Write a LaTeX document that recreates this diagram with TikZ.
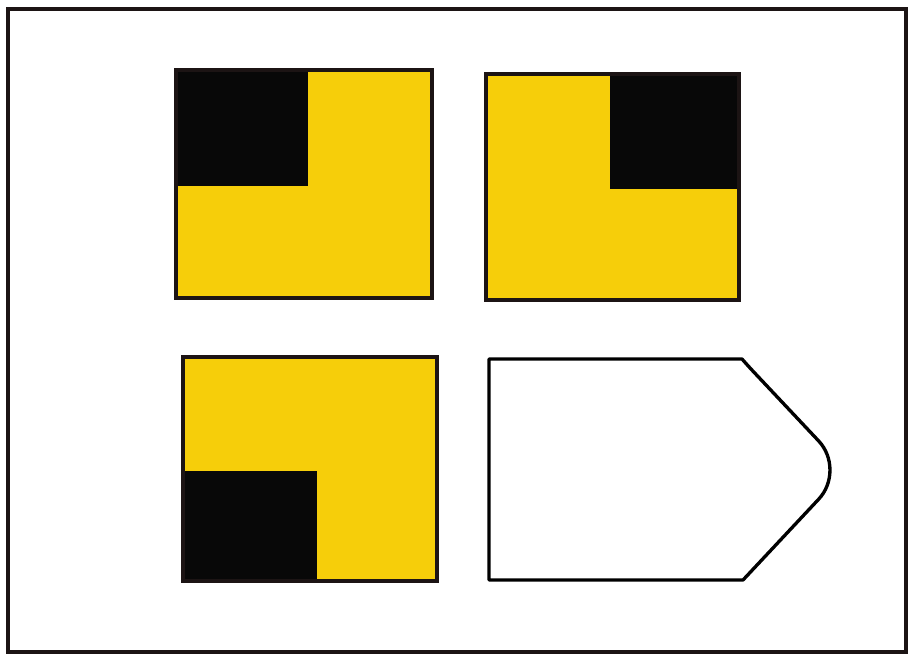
\documentclass[tikz,border=0pt]{standalone}
\usepackage{xcolor}
\usepackage{tikz}
\definecolor{PanelYellow}{HTML}{F6CE0A}
\definecolor{PanelBlack}{HTML}{080808}
\definecolor{PanelInk}{HTML}{1C1414}
\tikzset{
  frame/.style={draw=PanelInk, line width=1.9pt},
  panelfill/.style={fill=PanelYellow},
  notch/.style={fill=PanelBlack},
  panelline/.style={draw=PanelInk, line width=1.8pt},
  blank/.style={draw=black, line width=1.9pt, fill=white, line join=round}
}

\begin{document}
\begin{tikzpicture}[x=0.02cm, y=-0.02cm]
  \useasboundingbox (0,0) rectangle (913,656);
  \draw[frame] (8,9) rectangle (906,652);
  \fill[panelfill] (176,70) rectangle (432,298);
  \fill[notch] (176,70) rectangle (308,186);
  \draw[panelline] (176,70) rectangle (432,298);
  \fill[panelfill] (486,74) rectangle (739,300);
  \fill[notch] (610,74) rectangle (739,189);
  \draw[panelline] (486,74) rectangle (739,300);
  \fill[panelfill] (183,357) rectangle (437,581);
  \fill[notch] (183,471) rectangle (317,581);
  \draw[panelline] (183,357) rectangle (437,581);
  \draw[blank] (489,359) -- (742,359) [rounded corners=0.12cm] -- (750,368)
    [rounded corners=0.8cm] -- (846,470) [sharp corners] -- (743,580) -- (489,580) -- cycle;
\end{tikzpicture}
\end{document}
